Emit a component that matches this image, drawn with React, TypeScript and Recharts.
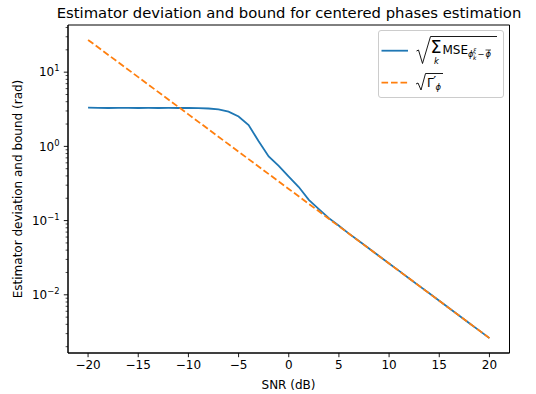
import React from 'react';
import { LineChart, Line, XAxis, YAxis, ReferenceArea } from 'recharts';

const snrMse = [-20, -19, -18, -17, -16, -15, -14, -13, -12, -11, -10, -9, -8, -7, -6, -5, -4, -3, -2, -1, 0, 1, 2, 3, 4, 5, 6, 7, 8, 9, 10, 11, 12, 13, 14, 15, 16, 17, 18, 19, 20];
const mseDeviation = [3.32, 3.31, 3.29, 3.30, 3.31, 3.29, 3.30, 3.29, 3.30, 3.29, 3.29, 3.27, 3.24, 3.15, 2.93, 2.53, 1.94, 1.17, 0.733, 0.545, 0.39, 0.283, 0.19, 0.143, 0.108, 0.085, 0.0668, 0.053, 0.042, 0.0333, 0.0264, 0.021, 0.0166, 0.0132, 0.0105, 0.0083, 0.00659, 0.00523, 0.00415, 0.00329, 0.00261];

const snrBound = [-20, -15, -10, -5, 0, 5, 10, 15, 20];
const boundDeviation = [27.2, 8.57, 2.70, 0.848, 0.267, 0.0839, 0.0264, 0.0083, 0.00261];

const xTicks = [-20, -15, -10, -5, 0, 5, 10, 15, 20];
const yMajorTicks = [0.01, 0.1, 1, 10];
const yMajorExponents = ['−2', '−1', '0', '1'];
const yMinorTicks = [0.002, 0.003, 0.004, 0.005, 0.006, 0.007, 0.008, 0.009, 0.02, 0.03, 0.04, 0.05, 0.06, 0.07, 0.08, 0.09, 0.2, 0.3, 0.4, 0.5, 0.6, 0.7, 0.8, 0.9, 2, 3, 4, 5, 6, 7, 8, 9, 20, 30, 40];

const mseData = snrMse.map((snr, i) => ({ snr, value: mseDeviation[i] }));
const boundData = snrBound.map((snr, i) => ({ snr, value: boundDeviation[i] }));

const FONT = 'DejaVu Sans';
const X_DOMAIN: [number, number] = [-22, 22];
const Y_DOMAIN: [number, number] = [0.001644, 43.2];

const allYTicks = [...yMinorTicks, ...yMajorTicks].sort((a, b) => a - b);

const YTick = (props: any) => {
  const { x, y, payload } = props;
  const v = payload.value;
  const idx = yMajorTicks.findIndex((t) => Math.abs(t - v) / t < 1e-6);
  if (idx < 0) {
    return <line x1={x - 2.4} x2={x} y1={y} y2={y} stroke="#000" strokeWidth={0.7} />;
  }
  return (
    <g>
      <line x1={x - 4.2} x2={x} y1={y} y2={y} stroke="#000" strokeWidth={0.9} />
      <text x={x - 8.4} y={y + 4.3} textAnchor="end" fontFamily={FONT} fontSize={12} fill="#000">
        10
        <tspan fontSize={8.4} dy={-5}>{yMajorExponents[idx]}</tspan>
      </text>
    </g>
  );
};

const fmtX = (v: number) => (v < 0 ? '−' + Math.abs(v) : String(v));

export default function App() {
  return (
    <div style={{ position: 'absolute', left: 0, top: 0, width: 536, height: 394, background: '#fff' }}>
      <LineChart
        width={536}
        height={394}
        margin={{ top: 25, right: 26.5, bottom: 11, left: 0 }}
      >
        <XAxis
          dataKey="snr"
          type="number"
          domain={X_DOMAIN}
          ticks={xTicks}
          interval={0}
          allowDataOverflow
          height={30}
          tickSize={4.2}
          tickMargin={3}
          tickFormatter={fmtX}
          tick={{ fill: '#000', fontSize: 12, fontFamily: FONT }}
          tickLine={{ stroke: '#000', strokeWidth: 0.9 }}
          axisLine={{ stroke: '#000', strokeWidth: 1 }}
        />
        <YAxis
          type="number"
          scale="log"
          domain={Y_DOMAIN}
          allowDataOverflow
          ticks={allYTicks}
          interval={0}
          width={68}
          tickSize={0}
          tickMargin={0}
          tickLine={false}
          tick={<YTick />}
          axisLine={{ stroke: '#000', strokeWidth: 1 }}
        />
        <ReferenceArea
          x1={X_DOMAIN[0]}
          x2={X_DOMAIN[1]}
          y1={Y_DOMAIN[0]}
          y2={Y_DOMAIN[1]}
          fill="none"
          fillOpacity={0}
          stroke="#000"
          strokeWidth={1}
          ifOverflow="visible"
        />
        <Line
          data={mseData}
          dataKey="value"
          type="linear"
          stroke="#1f77b4"
          strokeWidth={1.8}
          dot={false}
          activeDot={false}
          isAnimationActive={false}
        />
        <Line
          data={boundData}
          dataKey="value"
          type="linear"
          stroke="#ff7f0e"
          strokeWidth={1.8}
          strokeDasharray="6.6 2.9"
          dot={false}
          activeDot={false}
          isAnimationActive={false}
        />
      </LineChart>
      <svg
        width={536}
        height={394}
        style={{ position: 'absolute', left: 0, top: 0, pointerEvents: 'none' }}
        fontFamily={FONT}
      >
        <text x={289} y={17.5} textAnchor="middle" fontSize={14.8} fill="#000">
          Estimator deviation and bound for centered phases estimation
        </text>
        <text x={288.5} y={389} textAnchor="middle" fontSize={12} fill="#000">
          SNR (dB)
        </text>
        <text
          x={0}
          y={0}
          transform="translate(21.5,189) rotate(-90)"
          textAnchor="middle"
          fontSize={12}
          fill="#000"
        >
          Estimator deviation and bound (rad)
        </text>

        {/* legend */}
        <rect x={378.5} y={30.5} width={125} height={67} rx={2.5} fill="#fff" fillOpacity={0.8} stroke="#cccccc" strokeWidth={1} />
        <line x1={381.5} x2={408} y1={50.7} y2={50.7} stroke="#1f77b4" strokeWidth={1.8} />
        <line x1={381.5} x2={408} y1={82.7} y2={82.7} stroke="#ff7f0e" strokeWidth={1.8} strokeDasharray="6.6 2.9" />

        <path d="M416.5,51 L418.5,50 L422.5,63.5 L430.5,36.5 L497,36.5" fill="none" stroke="#000" strokeWidth={0.9} />
        <text x={430.5} y={53} fontSize={17.5} fill="#000">Σ</text>
        <text x={434} y={64} fontSize={8.4} fontStyle="italic" fill="#000">k</text>
        <text x={442.5} y={54} fontSize={12} fill="#000">MSE</text>
        <text x={468} y={57} fontSize={8.4} fontStyle="italic" fill="#000">ϕ</text>
        <text x={473} y={53} fontSize={6} fontStyle="italic" fill="#000">ξ</text>
        <text x={473} y={60} fontSize={6} fontStyle="italic" fill="#000">k</text>
        <text x={477.5} y={57} fontSize={8.4} fill="#000">−</text>
        <text x={485.5} y={57} fontSize={8.4} fontStyle="italic" fill="#000">ϕ</text>
        <line x1={485.5} x2={491} y1={50} y2={50} stroke="#000" strokeWidth={0.7} />

        <path d="M416,84 L418,83 L421,90 L425.5,73.5 L443,73.5" fill="none" stroke="#000" strokeWidth={0.9} />
        <text x={427} y={86.5} fontSize={12} fill="#000">Γ</text>
        <text x={433.3} y={85} fontSize={13} fill="#000">′</text>
        <text x={435.5} y={89.5} fontSize={8.4} fontStyle="italic" fill="#000">ϕ</text>
      </svg>
    </div>
  );
}
